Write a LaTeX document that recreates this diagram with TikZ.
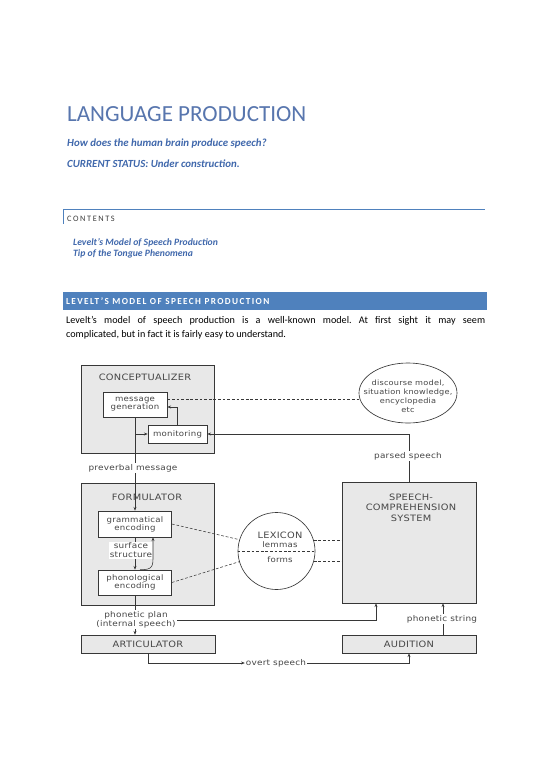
\documentclass[tikz,border=0pt]{standalone}
\usepackage{fontspec}
\setmainfont{Carlito}
\newfontfamily\dg[FakeStretch=1.12,LetterSpace=3]{DejaVu Sans}
\newfontfamily\spc[LetterSpace=15]{Carlito}
\newfontfamily\spcc[LetterSpace=19]{Carlito}
\usetikzlibrary{arrows.meta,shapes.geometric,calc}
\definecolor{ttl}{RGB}{88,118,174}
\definecolor{blu}{RGB}{64,104,172}
\definecolor{rulec}{RGB}{79,129,189}
\definecolor{barc}{RGB}{79,129,189}
\definecolor{dgray}{RGB}{60,60,60}
\definecolor{ink}{RGB}{55,55,55}
\definecolor{dtx}{RGB}{70,70,70}
\def\pu{1.0835pt}
\begin{document}
\frenchspacing
\begin{tikzpicture}[x=1.0835pt,y=-1.0835pt,
  gbox/.style={draw=ink,line width=0.8pt,fill=black!9,inner sep=0pt},
  wbox/.style={draw=ink,line width=0.7pt,fill=white,inner sep=0pt,align=center,text=dtx,font=\dg\fontsize{8.3}{8.8}\selectfont},
  capt/.style={inner sep=0pt,align=center,text=dtx,font=\dg\fontsize{9.5}{11.4}\selectfont},
  lowc/.style={inner sep=0pt,align=center,text=dtx,font=\dg\fontsize{8.3}{9.8}\selectfont},
  lbl/.style={fill=white,inner sep=1pt,align=center,text=dtx,font=\dg\fontsize{8.6}{9.8}\selectfont},
  ln/.style={draw=ink,line width=0.6pt},
  arr/.style={ln,-{Stealth[length=4pt,width=3.2pt]}},
  dsh/.style={ln,dash pattern=on 3pt off 2pt},
  pg/.style={anchor=base west,inner sep=0pt}
]
\useasboundingbox (0,0) rectangle (550,777);
\fill[white] (0,0) rectangle (550,777);

% ---------- page text ----------
\node[pg,font=\fontsize{25}{30}\selectfont,text=ttl] (title) at (67,121) {LANGUAGE PRODUCTION};
\node[pg,font=\bfseries\itshape\fontsize{11.8}{13}\selectfont,text=blu] (sub) at (67,146) {How does the human brain produce speech?};
\node[pg,font=\bfseries\itshape\fontsize{11.8}{13}\selectfont,text=blu] (status) at (67,167) {CURRENT STATUS: Under construction.};

\draw[rulec,line width=1pt] (63,209) -- (485,209);
\draw[rulec,line width=0.8pt] (63,209) -- (63,224);
\node[pg,font=\spcc\fontsize{9}{11}\selectfont,text=dgray] (cont) at (67,221) {CONTENTS};
\node[pg,font=\bfseries\itshape\fontsize{10.5}{12}\selectfont,text=blu] (toc1) at (73,245) {Levelt’s Model of Speech Production};
\node[pg,font=\bfseries\itshape\fontsize{10.5}{12}\selectfont,text=blu] (toc2) at (73,256) {Tip of the Tongue Phenomena};

\fill[barc] (63,292) rectangle (487,310);
\node[pg,font=\spc\bfseries\fontsize{10}{12}\selectfont,text=white] (h1) at (66,304.5) {LEVELT’S MODEL OF SPEECH PRODUCTION};

\node[pg,font=\fontsize{11}{13}\selectfont] (p1) at (66,323) {\makebox[454pt][s]{Levelt’s model of speech production is a well-known model. At first sight it may seem}};
\node[pg,font=\fontsize{11}{13}\selectfont] (p2) at (66,337) {complicated, but in fact it is fairly easy to understand.};

% ---------- diagram boxes ----------
\node[gbox,minimum width=133*\pu,minimum height=88*\pu] (concept) at (147.5,409) {};
\node[capt] (conceptlbl) at (145,377) {CONCEPTUALIZER};
\node[wbox,minimum width=64*\pu,minimum height=25*\pu] (msg) at (135,404.5) {message\\generation};
\node[wbox,minimum width=59*\pu,minimum height=18*\pu] (mon) at (177.5,434) {monitoring};

\node[draw=ink,line width=0.7pt,ellipse,fill=white,inner sep=0pt,minimum width=98*\pu,minimum height=60*\pu] (ell) at (408,393) {};
\node[inner sep=0pt,align=center,text=dtx,font=\dg\fontsize{7.9}{9.8}\selectfont] (elltxt) at (408,396.5) {discourse model,\\situation knowledge,\\encyclopedia\\etc};

\node[gbox,minimum width=133*\pu,minimum height=122*\pu] (form) at (147.5,544) {};
\node[capt] (formlbl) at (147,497) {FORMULATOR};
\node[wbox,minimum width=73*\pu,minimum height=26*\pu] (gram) at (135,524) {grammatical\\encoding};
\node[wbox,minimum width=73*\pu,minimum height=25*\pu] (phon) at (135,582.5) {phonological\\encoding};

\node[gbox,minimum width=134*\pu,minimum height=121*\pu] (comp) at (409,542.5) {};
\node[capt] (complbl) at (411,507.5) {SPEECH-\\COMPREHENSION\\SYSTEM};

\node[draw=ink,line width=0.7pt,circle,fill=white,inner sep=0pt,minimum size=77*\pu] (lex) at (276.5,551) {};
\node[capt] (lexlbl) at (280,535) {LEXICON};
\node[lowc] (lemmas) at (280,545) {lemmas};
\node[lowc] (forms) at (280,560) {forms};

\node[gbox,minimum width=134*\pu,minimum height=18*\pu,capt] (art) at (148,644) {ARTICULATOR};
\node[gbox,minimum width=134*\pu,minimum height=18*\pu,capt] (aud) at (409,644) {AUDITION};

% ---------- connectors ----------
\draw[dsh] ([yshift=5.5*\pu]msg.east) coordinate (d1) -- (d1 -| ell.west);
\draw[arr] (mon.north) |- ([yshift=-2.5*\pu]msg.east);
\draw[arr] (msg.south) -- (gram.north);
\draw[arr] (msg.south |- mon.west) -- (mon.west);
\node[lbl] (pv) at (133,468) {preverbal message};

\draw[arr] (comp.north) |- (mon.east);
\node[lbl] (ps) at (408,456) {parsed speech};

\draw[dsh] (gram.east) -- (lex.163.4);
\draw[dsh] (phon.east) -- (lex.196.6);
\draw[dsh] (lex.west) -- (lex.east);
\draw[dsh] (lex.16.6) -- (lex.16.6 -| comp.west);
\draw[dsh] (lex.-16.6) -- (lex.-16.6 -| comp.west);

\draw[arr] (gram.south) -- (phon.north);
\node[lbl] (ss) at (131,550.5) {surface\\structure};
\draw[arr] ([xshift=5*\pu]phon.north) .. controls (153,570) and (153,566) .. (153,556) -- ([xshift=18*\pu]gram.south);

\draw[arr] (phon.south) -- (phon.south |- art.north);
\draw[arr] (phon.south |- 0,620) -| ([xshift=-33*\pu]comp.south);
\node[lbl] (pplan) at (136,619.5) {phonetic plan\\(internal speech)};

\draw[arr] ([xshift=34*\pu]aud.north) -- ([xshift=34*\pu]comp.south);
\node[lbl] (pstr) at (442,619) {phonetic string};

\node[lbl] (ov) at (276,663) {overt speech};
\draw[arr] (art.south) |- (ov.west);
\draw[arr] (ov.east) -| (aud.south);
\end{tikzpicture}
\end{document}
